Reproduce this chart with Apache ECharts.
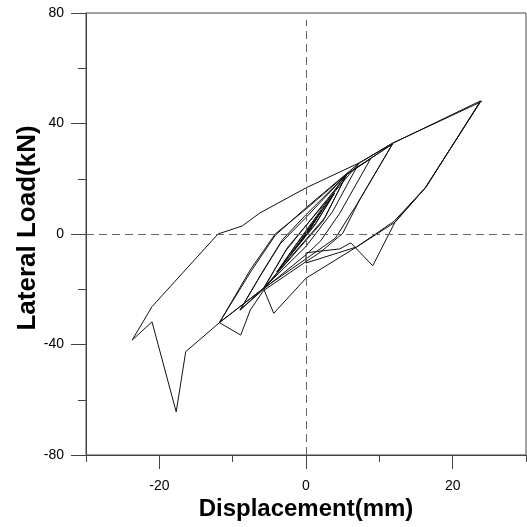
<!DOCTYPE html>
<html>
<head>
<meta charset="utf-8">
<script src="https://cdn.jsdelivr.net/npm/echarts@6/dist/echarts.min.js"></script>
<style>html,body{margin:0;padding:0;background:#fff}#c{width:527px;height:527px}</style>
</head>
<body>
<div id="c"></div>
<script>
// Displacement (mm) of each recorded point, in loading order
const dispX = [
  0,
  2.0, 0.6, -2.0, -0.6, 2.1, 0.5, -2.1, -0.5,
  3.8, 1.3, -3.9, -1.3, 3.9, 1.2, -4.0, -1.2,
  5.5, 2.6, -5.8, -2.8, 5.5, 2.3, -5.8, -2.5,
  7.2, 3.6, 0, -5.8, -9.0, -6.2, -3.5, 0, 5.5,
  8.8, 4.6, 2.0, 0, -5.8, -9.0, -6.0, -3.2, 0, 5.5,
  11.8, 7.3, 5.0, 2.0, 0, -5.8, -7.6, -8.9, -11.8,
  -7.6, -4.2, 0, 5.5, 11.8,
  7.0, 4.0, 0, -5.8, -11.8,
  -7.5, -4.2, 0, 7.2, 11.8,
  23.8, 16.4, 12.1, 9.1, 6.1, 4.6, 0, 0,
  6.9, 12.0, 16.3, 23.7,
  16.2, 12.0, 6.9, 0, -4.4, -5.8, -11.8, -16.4, -17.7, -21.0, -23.7,
  -21.0, -12.0, -8.7, -6.3, 0, 7.3, 11.8, 24.0
];
// Lateral load (kN) of each recorded point
const loadY = [
  0,
  8.0, 2.0, -7.2, -2.0, 8.2, 1.5, -7.4, -1.6,
  14.6, 3.8, -13.6, -3.8, 14.8, 3.2, -13.8, -3.2,
  21.4, 6.0, -19.7, -6.2, 21.2, 4.6, -19.9, -4.8,
  25.6, 8.0, -4.5, -19.7, -27.5, -15.0, -3.5, 6.0, 21.4,
  27.2, 7.5, -2.5, -7.5, -20.0, -27.6, -14.0, -2.0, 7.0, 21.5,
  32.6, 12.3, 0.2, -6.5, -10.0, -20.5, -27.5, -36.6, -32.1,
  -13.0, 0, 9.0, 21.6, 32.6,
  11.0, -1.5, -9.0, -19.7, -32.0,
  -13.5, -0.5, 9.5, 25.6, 32.8,
  48.2, 17.1, 4.1, -11.5, -3.2, -5.4, -6.8, -10.5,
  -4.7, 4.6, 16.8, 47.5,
  16.5, 4.0, -4.7, -16.0, -28.7, -19.7, -32.1, -42.6, -64.4, -31.8, -38.4,
  -26.3, 0, 2.9, 7.6, 16.7, 25.8, 32.9, 48.0
];
const xLabelTicks = [-20, 0, 20];
const xShortTicks = [-30, -10, 10, 30];
const yLabelTicks = [-80, -40, 0, 40, 80];
const yShortTicks = [-60, -20, 20, 60];

const pts = dispX.map((x, i) => [x, loadY[i]]);
const FONT = "'Liberation Sans', Arial, sans-serif";
const axisCol = '#444';

const chart = echarts.init(document.getElementById('c'), null, {renderer: 'canvas'});
chart.setOption({
  animation: false,
  backgroundColor: '#fff',
  grid: {left: 86, right: 1, top: 13, bottom: 72, show: true, borderColor: axisCol, borderWidth: 1, backgroundColor: 'transparent'},
  xAxis: [{
    type: 'value', min: -30, max: 30, position: 'bottom',
    axisLine: {show: true, onZero: false, lineStyle: {color: axisCol, width: 1}},
    axisTick: {show: true, customValues: xLabelTicks, length: 14, lineStyle: {color: axisCol}},
    axisLabel: {show: true, customValues: xLabelTicks, fontSize: 14, color: '#000', margin: 24, fontFamily: FONT},
    splitLine: {show: false},
    name: 'Displacement(mm)', nameLocation: 'middle', nameGap: 42, nameMoveOverlap: false,
    nameTextStyle: {fontSize: 24, fontWeight: 'bold', color: '#000', fontFamily: FONT}
  }, {
    type: 'value', min: -30, max: 30, position: 'bottom',
    axisLine: {show: false, onZero: false},
    axisTick: {show: true, customValues: xShortTicks, length: 7, lineStyle: {color: axisCol}},
    axisLabel: {show: false},
    splitLine: {show: false}
  }],
  yAxis: [{
    type: 'value', min: -80, max: 80, position: 'left',
    axisLine: {show: true, onZero: false, lineStyle: {color: axisCol, width: 1}},
    axisTick: {show: true, customValues: yLabelTicks, length: 15, lineStyle: {color: axisCol}},
    axisLabel: {show: true, customValues: yLabelTicks, fontSize: 14, color: '#000', margin: 22, fontFamily: FONT},
    splitLine: {show: false},
    name: 'Lateral Load(kN)', nameLocation: 'middle', nameGap: 45, nameMoveOverlap: false,
    nameTextStyle: {fontSize: 26, fontWeight: 'bold', color: '#000', fontFamily: FONT, padding: [0, 0, 0, 12]}
  }, {
    type: 'value', min: -80, max: 80, position: 'left',
    axisLine: {show: false, onZero: false},
    axisTick: {show: true, customValues: yShortTicks, length: 8, lineStyle: {color: axisCol}},
    axisLabel: {show: false},
    splitLine: {show: false}
  }],
  series: [{
    type: 'line',
    xAxisIndex: 0, yAxisIndex: 0,
    data: pts,
    showSymbol: false,
    symbol: 'none',
    lineStyle: {color: '#111', width: 1},
    markLine: {
      silent: true, symbol: 'none', label: {show: false},
      lineStyle: {type: [8, 5], color: '#666', width: 1},
      data: [
        [{coord: [0, -80]}, {coord: [0, 77.5]}],
        {yAxis: 0}
      ]
    }
  }]
});
</script>
</body>
</html>
